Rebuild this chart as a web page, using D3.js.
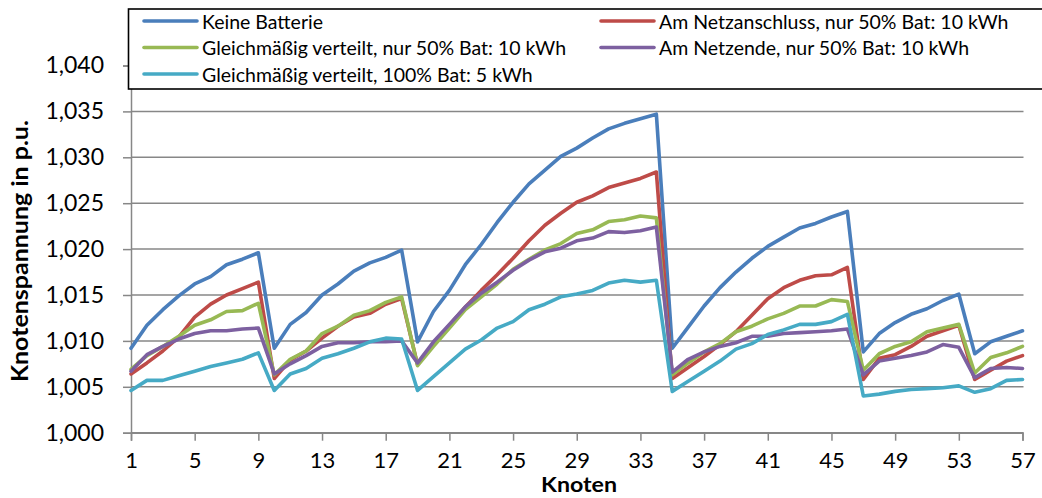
<!DOCTYPE html>
<html>
<head>
<meta charset="utf-8">
<script src="https://cdn.jsdelivr.net/npm/d3@7"></script>
<style>
  html, body { margin: 0; padding: 0; background: #fff; }
  svg { display: block; font-family: Lato, "Open Sans", sans-serif; }
</style>
</head>
<body>
<svg id="chart" width="1042" height="498"></svg>
<script>
const nodes = d3.range(1, 58);
const xTickValues = [1, 5, 9, 13, 17, 21, 25, 29, 33, 37, 41, 45, 49, 53, 57];
const yTickValues = [1.000, 1.005, 1.010, 1.015, 1.020, 1.025, 1.030, 1.035, 1.040];

const seriesNames = [
  "Keine Batterie",
  "Am Netzanschluss, nur 50% Bat: 10 kWh",
  "Gleichmäßig verteilt, nur 50% Bat: 10 kWh",
  "Am Netzende, nur 50% Bat: 10 kWh",
  "Gleichmäßig verteilt, 100% Bat: 5 kWh"
];
const seriesColors = ["#4A7EBB", "#BE4B48", "#98B954", "#7D60A0", "#46AAC5"];

const keineBatterie = [
  1.0092, 1.0117, 1.0134, 1.0149, 1.0162, 1.0170, 1.0183, 1.0189, 1.0196,
  1.0092, 1.0118, 1.0131, 1.0150, 1.0162, 1.0176, 1.0185, 1.0191, 1.0199,
  1.0099, 1.0132, 1.0155, 1.0183, 1.0205, 1.0229, 1.0251, 1.0271, 1.0286, 1.0301, 1.0310, 1.0321, 1.0331, 1.0337, 1.0342, 1.0347,
  1.0092, 1.0115, 1.0138, 1.0158, 1.0175, 1.0190, 1.0203, 1.0213, 1.0223, 1.0228, 1.0235, 1.0241,
  1.0088, 1.0108, 1.0120, 1.0129, 1.0135, 1.0144, 1.0151,
  1.0086, 1.0099, 1.0105, 1.0111
];
const amNetzanschluss = [
  1.0064, 1.0076, 1.0089, 1.0104, 1.0126, 1.0140, 1.0150, 1.0157, 1.0164,
  1.0059, 1.0079, 1.0089, 1.0103, 1.0116, 1.0126, 1.0130, 1.0140, 1.0146,
  1.0074, 1.0097, 1.0117, 1.0137, 1.0155, 1.0172, 1.0190, 1.0209, 1.0226, 1.0239, 1.0251, 1.0258, 1.0267, 1.0272, 1.0277, 1.0284,
  1.0059, 1.0071, 1.0083, 1.0096, 1.0110, 1.0128, 1.0146, 1.0158, 1.0166, 1.0171, 1.0172, 1.0180,
  1.0058, 1.0081, 1.0085, 1.0094, 1.0105, 1.0111, 1.0117,
  1.0058, 1.0068, 1.0078, 1.0084
];
const gleich50 = [
  1.0069, 1.0084, 1.0094, 1.0105, 1.0117, 1.0123, 1.0132, 1.0133, 1.0141,
  1.0063, 1.0080, 1.0089, 1.0108, 1.0116, 1.0128, 1.0133, 1.0142, 1.0148,
  1.0073, 1.0094, 1.0114, 1.0134, 1.0148, 1.0162, 1.0178, 1.0189, 1.0199, 1.0206, 1.0217, 1.0221, 1.0230, 1.0232, 1.0236, 1.0234,
  1.0063, 1.0076, 1.0088, 1.0097, 1.0110, 1.0116, 1.0124, 1.0130, 1.0138, 1.0138, 1.0145, 1.0143,
  1.0068, 1.0086, 1.0094, 1.0099, 1.0110, 1.0114, 1.0118,
  1.0065, 1.0082, 1.0087, 1.0094
];
const amNetzende = [
  1.0067, 1.0085, 1.0094, 1.0102, 1.0108, 1.0111, 1.0111, 1.0113, 1.0114,
  1.0064, 1.0075, 1.0084, 1.0094, 1.0098, 1.0098, 1.0099, 1.0099, 1.0100,
  1.0076, 1.0099, 1.0118, 1.0137, 1.0152, 1.0164, 1.0177, 1.0188, 1.0197, 1.0201, 1.0209, 1.0212, 1.0219, 1.0218, 1.0220, 1.0224,
  1.0066, 1.0080, 1.0088, 1.0094, 1.0098, 1.0105, 1.0105, 1.0108, 1.0109, 1.0110, 1.0111, 1.0113,
  1.0063, 1.0078, 1.0081, 1.0084, 1.0088, 1.0096, 1.0093,
  1.0060, 1.0070, 1.0071, 1.0070
];
const gleich100 = [
  1.0046, 1.0057, 1.0057, 1.0062, 1.0067, 1.0072, 1.0076, 1.0080, 1.0087,
  1.0046, 1.0064, 1.0070, 1.0081, 1.0086, 1.0092, 1.0099, 1.0103, 1.0102,
  1.0046, 1.0061, 1.0076, 1.0091, 1.0101, 1.0114, 1.0121, 1.0134, 1.0140, 1.0148, 1.0151, 1.0155, 1.0163, 1.0166, 1.0164, 1.0166,
  1.0045, 1.0056, 1.0067, 1.0078, 1.0091, 1.0097, 1.0107, 1.0112, 1.0118, 1.0118, 1.0121, 1.0129,
  1.0040, 1.0042, 1.0045, 1.0047, 1.0048, 1.0049, 1.0051,
  1.0044, 1.0048, 1.0057, 1.0058
];
const seriesValues = [keineBatterie, amNetzanschluss, gleich50, amNetzende, gleich100];

const svg = d3.select("#chart");
const plotLeft = 131, plotRight = 1022.5, plotTop = 65.5, plotBottom = 432.7;
const x = d3.scaleLinear().domain([1, 57]).range([plotLeft, plotRight]);
const y = d3.scaleLinear().domain([1.000, 1.040]).range([plotBottom, plotTop]);
const gridColor = "#878787";
const fmt = v => d3.format(".3f")(v).replace(".", ",");

// gridlines
svg.append("g").selectAll("line").data(yTickValues).join("line")
  .attr("x1", plotLeft).attr("x2", plotRight + 1)
  .attr("y1", d => y(d)).attr("y2", d => y(d))
  .attr("stroke", gridColor).attr("stroke-width", 1.5);

// y axis
const yAxis = svg.append("g").attr("transform", `translate(${plotLeft},0)`)
  .call(d3.axisLeft(y).tickValues(yTickValues).tickFormat(fmt).tickSize(8).tickPadding(19));
yAxis.select(".domain").attr("stroke", gridColor).attr("stroke-width", 1.5);
yAxis.selectAll(".tick line").attr("stroke", gridColor).attr("stroke-width", 1.5);
yAxis.selectAll(".tick text").attr("font-family", "Lato").attr("font-size", 23).attr("fill", "#000");

// x axis
const xAxis = svg.append("g").attr("transform", `translate(0,${plotBottom})`)
  .call(d3.axisBottom(x).tickValues(xTickValues).tickFormat(d3.format("d")).tickSize(8).tickPadding(12));
xAxis.select(".domain").attr("stroke", gridColor).attr("stroke-width", 1.5);
xAxis.selectAll(".tick line").attr("stroke", gridColor).attr("stroke-width", 1.5);
xAxis.selectAll(".tick text").attr("font-family", "Lato").attr("font-size", 22).attr("fill", "#000");

// lines
const line = d3.line().x((d, i) => x(nodes[i])).y(d => y(d));
svg.append("g").selectAll("path").data(seriesValues).join("path")
  .attr("d", d => line(d))
  .attr("fill", "none")
  .attr("stroke", (d, i) => seriesColors[i])
  .attr("stroke-width", 3.6)
  .attr("stroke-linejoin", "round")
  .attr("stroke-linecap", "round");

// axis titles
svg.append("text")
  .attr("transform", `translate(22,${(plotTop + plotBottom) / 2 + 2}) rotate(-90)`)
  .attr("text-anchor", "middle").attr("dominant-baseline", "middle")
  .attr("font-weight", "bold").attr("font-size", 23)
  .attr("textLength", 262).attr("lengthAdjust", "spacingAndGlyphs")
  .text("Knotenspannung in p.u.");
svg.append("text")
  .attr("x", 579).attr("y", 492)
  .attr("text-anchor", "middle")
  .attr("font-weight", "bold").attr("font-size", 21)
  .attr("textLength", 76).attr("lengthAdjust", "spacingAndGlyphs")
  .text("Knoten");

// legend
const lg = svg.append("g");
lg.append("rect").attr("x", 128.5).attr("y", 9).attr("width", 920).attr("height", 80)
  .attr("fill", "#fff").attr("stroke", "#000").attr("stroke-width", 1.6);
const legendPos = [
  { lx: 144, ty: 21 }, { lx: 601, ty: 21 },
  { lx: 144, ty: 47.5 }, { lx: 601, ty: 47.5 },
  { lx: 144, ty: 74 }
];
const items = lg.selectAll("g.item").data(seriesNames).join("g").attr("class", "item");
items.append("line")
  .attr("x1", (d, i) => legendPos[i].lx).attr("x2", (d, i) => legendPos[i].lx + 53)
  .attr("y1", (d, i) => legendPos[i].ty).attr("y2", (d, i) => legendPos[i].ty)
  .attr("stroke", (d, i) => seriesColors[i]).attr("stroke-width", 3.6).attr("stroke-linecap", "round");
items.append("text")
  .attr("x", (d, i) => legendPos[i].lx + 58).attr("y", (d, i) => legendPos[i].ty)
  .attr("dominant-baseline", "central")
  .attr("font-size", 19.5)
  .text(d => d);
</script>
</body>
</html>
